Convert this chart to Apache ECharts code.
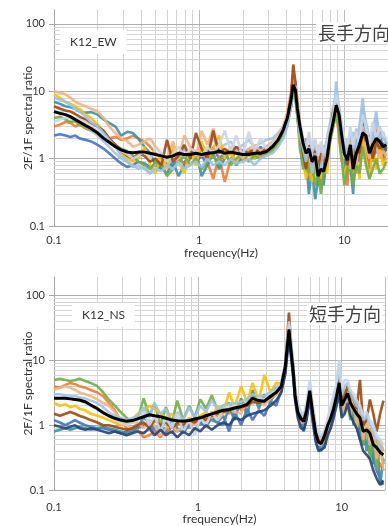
<!DOCTYPE html>
<html>
<head>
<meta charset="utf-8">
<script src="https://cdn.jsdelivr.net/npm/echarts@6/dist/echarts.min.js"></script>
<style>
html, body { margin: 0; padding: 0; background: #fff; }
#main { width: 388px; height: 526px; }
</style>
</head>
<body>
<div id="main"></div>
<script>
// shared frequency axis (Hz)
var freq = [
    0.1, 0.11, 0.12, 0.13, 0.14, 0.15, 0.165, 0.18, 0.2, 0.22, 0.24, 0.265, 0.29, 0.32, 0.35,
    0.38, 0.42, 0.46, 0.5, 0.55, 0.6, 0.66, 0.72, 0.79, 0.87, 0.95, 1.04, 1.14, 1.25, 1.37,
    1.5, 1.65, 1.8, 2.0, 2.2, 2.4, 2.65, 2.9, 3.2, 3.5, 3.8, 4.05, 4.3, 4.45, 4.6,
    4.75, 4.95, 5.2, 5.45, 5.7, 6.0, 6.3, 6.6, 6.9, 7.2, 7.6, 8.0, 8.4, 8.8, 9.2,
    9.6, 10.0, 10.5, 11.0, 11.5, 12.1, 12.7, 13.4, 14.1, 14.9, 15.7, 16.6, 17.5, 18.5, 19.5
];

// ---------- K12_EW ----------
var ewMean = [
    5.0, 4.7, 4.5, 4.2, 3.8, 3.5, 3.1, 2.8, 2.4, 2.0, 1.75, 1.5, 1.35, 1.25, 1.22,
    1.25, 1.25, 1.2, 1.15, 1.1, 1.05, 1.1, 1.2, 1.15, 1.15, 1.2, 1.15, 1.2, 1.22, 1.3,
    1.2, 1.25, 1.2, 1.15, 1.15, 1.2, 1.2, 1.27, 1.5, 1.9, 2.7, 4.0, 7.5, 12.5, 10.5,
    5.5, 3.0, 1.7, 1.2, 1.4, 0.9, 1.1, 0.55, 0.7, 0.65, 1.0, 2.2, 3.6, 6.2, 4.5,
    2.2, 1.2, 0.95, 1.6, 0.7, 1.2, 1.6, 2.4, 2.2, 1.2, 1.6, 2.0, 1.8, 1.5, 1.6
];
var ewRuns = [
    [2.2, 2.3, 2.2, 2.1, 2.2, 2.0, 1.9, 1.8, 1.6, 1.4, 1.2, 1.0, 0.85, 0.75, 0.8,
     0.9, 0.85, 0.75, 0.8, 0.7, 0.9, 0.75, 1.0, 0.85, 1.3, 0.9, 1.1, 0.8, 1.5, 1.0,
     1.2, 0.9, 1.4, 1.0, 1.3, 1.1, 1.5, 1.2, 1.6, 2.0, 2.6, 3.6, 6.5, 10, 8,
     4.5, 2.0, 1.1, 0.6, 0.9, 0.5, 1.4, 0.4, 0.8, 0.5, 1.5, 2.6, 4.0, 7, 3.5,
     1.5, 0.8, 0.6, 2.2, 0.5, 1.6, 0.9, 3.5, 1.5, 0.7, 2.5, 1.2, 2.5, 1.0, 1.5],
    [3.0, 3.2, 3.5, 3.4, 3.0, 3.2, 2.8, 2.6, 2.4, 2.2, 2.0, 2.1, 1.9, 2.0, 2.2,
     2.0, 1.8, 1.5, 1.2, 1.0, 0.9, 1.3, 1.1, 0.8, 1.2, 1.0, 1.4, 0.9, 0.5, 1.1,
     0.45, 1.0, 1.3, 0.9, 1.2, 1.4, 1.1, 1.3, 1.4, 1.8, 2.5, 3.3, 6, 14, 9,
     6, 2.5, 1.2, 2.0, 0.5, 0.9, 0.6, 1.3, 0.35, 1.0, 0.8, 3.0, 5.0, 5.5, 2.0,
     0.9, 2.0, 0.4, 1.4, 1.8, 0.6, 2.2, 1.3, 3.0, 0.8, 1.1, 2.8, 1.3, 0.9, 1.2],
    [7.0, 6.5, 6.0, 5.8, 5.5, 5.0, 4.8, 4.9, 4.5, 3.8, 3.4, 3.0, 2.2, 2.5, 2.4,
     2.0, 1.5, 1.2, 0.8, 0.75, 0.6, 0.9, 0.55, 0.8, 1.0, 1.3, 0.55, 0.8, 1.2, 0.7,
     1.0, 1.3, 0.8, 1.1, 1.4, 1.0, 1.2, 1.5, 1.7, 2.1, 2.8, 4.2, 8, 12, 11,
     5, 1.4, 0.8, 1.0, 0.3, 0.7, 0.25, 0.5, 1.0, 0.4, 1.1, 2.0, 3.5, 6.5, 4.0,
     2.5, 0.6, 1.0, 0.8, 0.3, 2.0, 1.4, 5, 2.0, 1.3, 0.9, 1.5, 3.0, 1.2, 1.8],
    [5.0, 4.8, 4.5, 4.0, 3.6, 3.4, 3.0, 2.6, 2.2, 1.8, 1.5, 1.2, 1.0, 0.9, 0.75,
     0.8, 0.7, 0.6, 0.85, 0.9, 0.75, 1.1, 0.9, 1.4, 1.0, 1.2, 1.6, 1.3, 2.0, 1.4,
     1.6, 1.8, 1.4, 1.6, 1.9, 1.5, 1.7, 1.9, 2.0, 2.4, 3.0, 4.5, 8, 13, 14,
     7, 3.5, 2.0, 1.5, 2.2, 1.2, 1.8, 0.9, 1.5, 1.0, 2.0, 3.5, 6, 9, 6,
     3.0, 1.8, 1.2, 2.5, 1.4, 2.8, 2.0, 6, 3.5, 2.0, 1.5, 4.0, 2.0, 2.5, 1.6],
    [9.0, 8.0, 7.0, 6.5, 6.0, 5.5, 4.5, 4.0, 3.2, 2.5, 2.0, 1.5, 1.2, 1.0, 0.9,
     1.0, 1.5, 0.8, 0.6, 1.2, 0.7, 1.6, 0.9, 0.6, 1.4, 0.8, 1.8, 0.9, 1.4, 2.2,
     1.0, 1.2, 0.9, 1.3, 1.1, 1.0, 1.3, 1.1, 1.4, 1.7, 2.3, 3.5, 7, 11, 9,
     5, 1.6, 0.9, 0.5, 0.8, 0.45, 0.7, 1.2, 0.5, 0.9, 0.6, 2.0, 3.0, 5.0, 3.0,
     1.2, 0.5, 0.9, 1.8, 0.6, 1.0, 0.5, 2.0, 1.0, 0.5, 1.4, 0.7, 1.5, 0.8, 1.0],
    [4.0, 4.2, 3.8, 3.5, 3.6, 3.2, 3.0, 2.7, 2.5, 2.2, 1.9, 1.6, 1.4, 1.3, 1.1,
     0.9, 0.8, 0.7, 0.9, 0.8, 0.55, 0.7, 0.9, 1.1, 0.8, 1.0, 0.7, 0.9, 1.1, 0.8,
     1.3, 0.8, 1.0, 1.2, 0.9, 1.1, 1.0, 1.2, 1.3, 1.6, 2.2, 3.2, 6, 10, 9,
     4, 1.8, 0.7, 1.1, 0.6, 1.0, 0.4, 0.6, 0.3, 0.6, 0.9, 1.8, 3.0, 4.5, 2.5,
     1.0, 0.4, 0.7, 1.1, 0.4, 0.9, 0.6, 1.5, 0.8, 0.5, 0.7, 1.0, 0.6, 0.7, 0.9],
    [10.0, 9.5, 9.0, 8.0, 7.0, 6.5, 6.0, 5.5, 5.0, 4.0, 3.0, 2.4, 2.0, 1.8, 1.5,
     1.6, 1.8, 2.0, 1.5, 1.2, 1.0, 1.8, 1.0, 2.2, 1.5, 1.1, 2.6, 1.6, 2.8, 1.4,
     1.1, 1.5, 1.3, 1.0, 1.4, 1.6, 1.3, 1.5, 1.8, 2.2, 3.0, 5, 10, 18, 12,
     8, 3.0, 1.5, 0.8, 1.2, 0.7, 1.0, 1.6, 0.6, 1.2, 0.8, 2.5, 4.5, 8, 5,
     2.0, 1.0, 1.6, 0.7, 1.2, 0.8, 2.5, 3.0, 1.5, 1.0, 2.0, 1.5, 1.0, 1.3, 1.1],
    [6.0, 5.5, 5.2, 5.0, 4.6, 4.2, 3.8, 3.4, 3.0, 2.6, 2.0, 1.6, 1.3, 1.1, 1.0,
     1.2, 1.1, 0.9, 1.0, 0.8, 1.9, 0.9, 1.1, 1.6, 1.0, 2.4, 1.4, 1.0, 2.6, 1.2,
     1.4, 1.2, 1.5, 1.3, 1.2, 1.4, 1.2, 1.4, 1.5, 1.9, 2.6, 4.0, 9, 25, 14,
     6, 2.5, 1.2, 0.7, 1.6, 0.8, 1.3, 0.7, 1.2, 0.8, 1.2, 2.8, 5, 7, 4,
     1.8, 1.2, 0.8, 1.4, 0.9, 1.4, 1.2, 2.5, 1.8, 2.2, 1.0, 1.8, 1.4, 1.7, 1.3],
    [8.0, 7.5, 7.0, 6.2, 5.5, 5.0, 4.2, 3.5, 3.0, 2.4, 1.9, 1.5, 1.1, 0.9, 0.8,
     0.7, 0.75, 0.6, 0.7, 0.65, 0.8, 0.7, 0.9, 0.7, 0.8, 0.9, 0.75, 1.0, 0.8, 0.9,
     0.8, 1.0, 0.85, 0.9, 1.0, 0.8, 1.0, 1.1, 1.2, 1.5, 2.0, 3.0, 6, 10, 10,
     5, 2.2, 1.4, 0.9, 1.5, 0.6, 1.2, 0.7, 0.6, 1.6, 1.0, 2.2, 3.8, 14, 5,
     2.0, 1.0, 2.0, 1.0, 2.5, 1.2, 3.0, 8.0, 2.5, 1.5, 2.5, 5.0, 2.0, 2.2, 1.5],
    [3.5, 3.8, 4.0, 4.2, 4.0, 3.8, 3.5, 3.0, 2.6, 2.2, 1.8, 1.5, 1.3, 1.15, 1.0,
     1.1, 1.3, 1.0, 1.4, 1.2, 0.9, 1.2, 1.5, 1.1, 1.4, 1.3, 1.1, 1.5, 1.2, 1.6,
     2.6, 1.3, 2.2, 1.1, 2.5, 1.3, 2.0, 1.4, 1.7, 2.1, 2.8, 4.0, 7, 11, 12,
     6, 3.0, 1.8, 1.3, 2.5, 1.4, 2.0, 1.1, 1.8, 1.2, 1.6, 3.0, 4.5, 9, 5,
     3.5, 2.0, 1.5, 3.0, 1.6, 2.5, 1.6, 4.5, 3.0, 1.6, 3.5, 2.0, 3.0, 2.2, 2.0]
];

// ---------- K12_NS ----------
var nsMean = [
    2.6, 2.6, 2.6, 2.55, 2.5, 2.45, 2.3, 2.05, 1.8, 1.55, 1.4, 1.28, 1.2, 1.15, 1.18,
    1.25, 1.35, 1.45, 1.4, 1.35, 1.28, 1.2, 1.17, 1.15, 1.18, 1.25, 1.3, 1.4, 1.5, 1.6,
    1.7, 1.75, 1.85, 1.95, 2.1, 2.6, 2.4, 2.35, 2.8, 3.2, 4.0, 8.0, 30, 14, 7,
    2.8, 1.6, 1.25, 1.15, 1.7, 3.4, 1.5, 0.75, 0.55, 0.52, 0.7, 1.0, 1.3, 1.8, 2.8,
    4.5, 2.0, 2.5, 3.1, 2.2, 1.8, 1.5, 1.3, 0.8, 0.85, 0.75, 0.5, 0.45, 0.38, 0.35
];
var nsRuns = [
    [1.2, 1.1, 1.0, 1.1, 1.2, 1.1, 1.0, 0.95, 0.9, 0.9, 0.85, 0.8, 0.75, 0.8, 0.85,
     0.9, 1.0, 1.1, 0.8, 0.9, 0.75, 0.95, 0.8, 0.9, 1.0, 0.85, 1.1, 0.95, 1.3, 1.1,
     1.4, 0.8, 1.6, 1.0, 1.8, 1.2, 1.7, 1.4, 2.3, 2.0, 3.4, 6.5, 25, 12, 6,
     2.5, 1.4, 1.0, 0.9, 1.3, 2.8, 1.2, 0.6, 0.45, 0.4, 0.5, 0.8, 1.0, 1.5, 2.2,
     3.5, 1.5, 1.8, 2.5, 1.5, 1.2, 1.0, 0.8, 0.5, 0.55, 0.4, 0.3, 0.2, 0.15, 0.12],
    [4.0, 3.8, 4.2, 4.5, 4.3, 4.0, 3.8, 3.5, 3.2, 2.8, 2.2, 1.7, 1.2, 0.9, 0.8,
     0.85, 0.65, 0.7, 0.8, 0.65, 0.9, 0.75, 1.0, 1.2, 0.9, 1.1, 1.4, 1.2, 1.6, 1.3,
     1.8, 1.5, 2.2, 1.7, 2.0, 2.8, 2.2, 2.6, 2.5, 3.0, 3.8, 7, 35, 15, 7,
     3.0, 1.7, 1.2, 1.0, 1.8, 3.5, 1.4, 0.7, 0.5, 0.6, 0.55, 1.0, 1.5, 2.5, 3.5,
     5, 2.5, 3.0, 4.0, 2.0, 2.5, 1.6, 1.0, 0.7, 0.9, 0.6, 0.4, 0.3, 0.25, 0.2],
    [0.8, 0.85, 0.9, 0.85, 0.9, 0.95, 0.9, 0.85, 0.9, 0.95, 0.9, 0.85, 0.8, 0.75, 0.8,
     0.95, 1.3, 1.1, 0.9, 1.0, 0.85, 1.2, 0.9, 0.75, 1.0, 1.3, 1.0, 1.5, 1.2, 1.1,
     1.0, 1.9, 1.2, 2.6, 1.4, 3.5, 1.8, 3.0, 2.2, 3.8, 3.6, 7.5, 28, 14, 6.5,
     2.6, 1.5, 1.1, 0.8, 1.4, 3.0, 1.3, 0.65, 0.5, 0.45, 0.6, 0.75, 1.2, 1.8, 2.5,
     6, 1.4, 3.0, 2.0, 3.5, 1.0, 1.8, 0.6, 1.2, 0.4, 0.9, 0.25, 0.6, 0.12, 0.3],
    [5.0, 5.2, 5.0, 4.8, 5.0, 5.2, 4.8, 4.5, 4.0, 3.2, 2.5, 2.0, 1.6, 1.3, 1.1,
     1.2, 2.6, 1.4, 2.2, 1.0, 1.9, 1.1, 2.4, 1.2, 2.0, 1.3, 2.5, 1.8, 2.9, 1.7,
     2.0, 2.2, 1.8, 2.4, 2.0, 3.0, 2.5, 2.2, 3.0, 3.3, 4.2, 8, 30, 16, 8,
     3.0, 1.7, 1.3, 1.2, 1.6, 3.2, 1.6, 0.8, 0.6, 0.55, 0.6, 1.0, 1.4, 1.6, 2.5,
     4, 1.5, 3.5, 2.0, 1.2, 2.4, 0.9, 1.6, 0.5, 1.0, 0.3, 0.7, 0.2, 0.5, 0.25],
    [2.2, 2.0, 2.1, 1.9, 2.0, 1.8, 1.7, 1.5, 1.4, 1.3, 1.2, 1.1, 1.0, 1.05, 1.2,
     1.5, 1.7, 2.0, 1.8, 1.5, 1.3, 1.5, 1.2, 1.0, 1.3, 1.1, 1.4, 1.6, 1.3, 2.0,
     1.6, 3.2, 1.9, 4.0, 2.2, 4.5, 2.4, 6.0, 3.2, 4.5, 4.4, 8.5, 32, 15, 7.5,
     3.2, 1.9, 1.3, 1.3, 1.8, 3.8, 1.7, 0.9, 0.6, 0.6, 0.7, 1.1, 1.6, 2.0, 3.0,
     5, 2.2, 2.5, 3.2, 2.4, 2.0, 1.5, 1.2, 0.9, 1.0, 0.8, 0.6, 0.5, 0.6, 0.4],
    [3.5, 3.8, 4.0, 3.8, 3.5, 3.2, 3.0, 2.8, 2.5, 2.2, 2.0, 1.6, 1.2, 1.0, 0.9,
     1.1, 0.9, 1.2, 1.0, 0.7, 0.9, 1.0, 0.8, 1.0, 1.2, 1.0, 1.3, 1.1, 1.5, 1.2,
     1.5, 1.8, 1.6, 1.5, 2.4, 2.1, 2.5, 2.0, 2.6, 3.0, 3.8, 7.5, 30, 14, 7,
     2.8, 1.6, 1.1, 1.1, 1.5, 3.0, 1.4, 0.7, 0.5, 0.5, 0.6, 0.9, 1.3, 1.7, 2.6,
     3.0, 2.5, 1.5, 3.5, 1.4, 2.6, 0.9, 1.8, 0.6, 1.2, 0.5, 0.8, 0.3, 0.5, 0.2],
    [1.5, 1.4, 1.5, 1.6, 1.5, 1.4, 1.3, 1.2, 1.1, 1.0, 1.0, 0.95, 0.9, 0.85, 0.9,
     1.0, 1.1, 0.9, 1.2, 1.0, 1.1, 0.9, 1.1, 1.0, 1.2, 1.1, 1.3, 1.2, 1.4, 1.5,
     1.6, 1.7, 1.8, 1.9, 2.0, 2.3, 2.2, 2.4, 2.7, 3.2, 4.0, 8, 55, 18, 8,
     3.0, 1.8, 1.3, 1.2, 1.7, 3.5, 1.6, 0.8, 0.55, 0.55, 0.6, 1.0, 1.4, 2.0, 3.0,
     5, 2.3, 2.8, 4, 3.0, 2.5, 1.8, 5, 1.0, 1.2, 2.5, 1.5, 0.8, 1.5, 2.4],
    [3.0, 3.0, 2.9, 2.8, 2.8, 2.7, 2.6, 2.4, 2.2, 1.9, 1.6, 1.4, 1.3, 1.2, 1.3,
     1.4, 1.9, 1.3, 2.2, 1.5, 1.8, 1.1, 1.6, 1.2, 1.9, 1.3, 2.0, 1.6, 2.4, 1.8,
     2.0, 2.1, 2.2, 2.3, 2.6, 3.0, 2.8, 2.8, 3.3, 3.8, 4.6, 9, 35, 18, 8,
     3.2, 2.0, 1.5, 1.4, 2.0, 4.5, 1.8, 0.9, 0.7, 0.65, 0.8, 1.2, 1.8, 2.5, 4.0,
     9, 3.0, 4.0, 4.5, 3.0, 2.5, 2.0, 1.8, 1.2, 1.4, 1.0, 0.8, 0.6, 0.5, 0.4],
    [2.5, 2.6, 2.7, 2.6, 2.5, 2.4, 2.2, 2.0, 1.8, 1.6, 1.4, 1.2, 1.1, 1.0, 1.1,
     1.2, 1.6, 1.0, 1.4, 0.8, 1.3, 0.9, 1.5, 0.8, 1.2, 0.7, 1.3, 1.0, 1.6, 1.2,
     1.8, 1.9, 2.0, 2.0, 2.2, 2.5, 2.6, 2.5, 3.0, 3.4, 4.4, 8.5, 40, 20, 9,
     3.5, 2.2, 1.6, 1.5, 2.2, 5, 2.0, 1.0, 0.8, 0.7, 0.8, 1.3, 2.0, 3.0, 4.5,
     10, 3.5, 5, 5, 3.5, 3.0, 2.4, 2.0, 1.4, 1.6, 1.2, 1.0, 0.7, 0.6, 0.5],
    [1.0, 0.95, 0.9, 0.95, 1.0, 0.9, 0.85, 0.9, 0.85, 0.8, 0.75, 0.8, 0.75, 0.7, 0.75,
     0.8, 0.75, 0.9, 0.7, 0.85, 0.7, 0.8, 0.65, 0.8, 0.7, 0.9, 0.8, 1.0, 0.85, 1.0,
     1.1, 1.0, 1.3, 1.2, 1.4, 1.5, 1.6, 1.7, 2.0, 2.4, 3.2, 6, 22, 11, 5.5,
     2.4, 1.3, 0.9, 0.85, 1.2, 2.6, 1.1, 0.55, 0.4, 0.42, 0.45, 0.7, 0.9, 1.3, 2.0,
     3.0, 1.3, 1.5, 2.2, 1.4, 1.1, 0.9, 0.6, 0.4, 0.35, 0.3, 0.2, 0.15, 0.12, 0.14]
];

var ewColors = ['#4472c4', '#ed7d31', '#3a8fa8', '#adc2da', '#ffc000',
                '#70ad47', '#f4b183', '#9e480e', '#9dc3e6', '#c9d6e8'];
var nsColors = ['#4472c4', '#ed7d31', '#3a8fa8', '#70ad47', '#ffc000',
                '#f4b183', '#9e480e', '#9dc3e6', '#c9d6e8', '#264478'];

// grid line positions (log axes)
var minorX = [0.2, 0.3, 0.4, 0.5, 0.6, 0.7, 0.8, 0.9, 2, 3, 4, 5, 6, 7, 8, 9];
var minorY = [0.2, 0.3, 0.4, 0.5, 0.6, 0.7, 0.8, 0.9, 2, 3, 4, 5, 6, 7, 8, 9,
              20, 30, 40, 50, 60, 70, 80, 90];
var majorY = [1, 10, 100];

var latin = 'Lato, "Liberation Sans", sans-serif';
var cjk = '"Noto Sans CJK JP", sans-serif';

var chart = echarts.init(document.getElementById('main'));

function pairs(values) {
    return freq.map(function (f, i) { return [f, values[i]]; });
}

function makeAxes(idx, yMax, labelMargin, nameGap) {
    var x = {
        type: 'log', logBase: 10, gridIndex: idx,
        min: 0.1, max: 20,
        name: 'frequency(Hz)', nameLocation: 'middle', nameGap: nameGap,
        nameMoveOverlap: false,
        nameTextStyle: { color: '#333', fontSize: 12, fontFamily: latin },
        axisLine: { show: true, lineStyle: { color: '#a6a6a6' } },
        axisTick: { show: false },
        axisLabel: { color: '#333', fontSize: 11, fontFamily: latin,
                     margin: labelMargin, showMaxLabel: false },
        splitLine: { show: true, lineStyle: { color: '#bdbdbd' } }
    };
    var y = {
        type: 'log', logBase: 10, gridIndex: idx,
        min: 0.1, max: yMax,
        name: '2F/1F spectral ratio', nameLocation: 'middle', nameGap: 20,
        nameMoveOverlap: false,
        nameTextStyle: { color: '#333', fontSize: 12, fontFamily: latin },
        axisLine: { show: true, lineStyle: { color: '#a6a6a6' } },
        axisTick: { show: true, length: 5, lineStyle: { color: '#a6a6a6' } },
        axisLabel: { color: '#333', fontSize: 11, fontFamily: latin,
                     margin: 9, showMaxLabel: false },
        splitLine: { show: false }
    };
    return { x: x, y: y };
}

function makeSeries(idx, mean, runs, colors) {
    var list = [];
    // background grid drawn as mark lines
    var lines = [];
    minorX.forEach(function (v) { lines.push({ xAxis: v, lineStyle: { color: '#d2d2d2' } }); });
    minorY.forEach(function (v) { lines.push({ yAxis: v, lineStyle: { color: '#d6d6d6' } }); });
    majorY.forEach(function (v) { lines.push({ yAxis: v, lineStyle: { color: '#aeaeae' } }); });
    list.push({
        type: 'line', xAxisIndex: idx, yAxisIndex: idx, data: [],
        silent: true,
        markLine: {
            silent: true, symbol: 'none', animation: false,
            label: { show: false },
            lineStyle: { type: 'solid', width: 1 },
            data: lines
        }
    });
    runs.forEach(function (r, k) {
        list.push({
            type: 'line', xAxisIndex: idx, yAxisIndex: idx, z: 10,
            data: pairs(r), showSymbol: false, symbol: 'none',
            lineStyle: { width: 2.6, color: colors[k], opacity: 0.9 },
            itemStyle: { color: colors[k] }
        });
    });
    list.push({
        type: 'line', xAxisIndex: idx, yAxisIndex: idx, z: 12,
        data: pairs(mean), showSymbol: false, symbol: 'none',
        lineStyle: { width: 3, color: '#000' },
        itemStyle: { color: '#000' }
    });
    return list;
}

var axesTop = makeAxes(0, 161, 9, 21);
var axesBot = makeAxes(1, 194, 12, 23);

var option = {
    animation: false,
    backgroundColor: '#fff',
    title: [
        { text: 'K12_EW', left: 60, top: 30, backgroundColor: '#fff', padding: [6, 10],
          textStyle: { fontSize: 12, fontWeight: 'normal', color: '#333', fontFamily: latin } },
        { text: '長手方向', left: 316, top: 22, backgroundColor: '#fff', padding: [1, 2],
          textStyle: { fontSize: 18, lineHeight: 20, fontWeight: 'normal', color: '#404040', fontFamily: cjk } },
        { text: 'K12_NS', left: 72, top: 303, backgroundColor: '#fff', padding: [6, 10],
          textStyle: { fontSize: 12, fontWeight: 'normal', color: '#333', fontFamily: latin } },
        { text: '短手方向', left: 307, top: 303, backgroundColor: '#fff', padding: [1, 2],
          textStyle: { fontSize: 18, lineHeight: 20, fontWeight: 'normal', color: '#404040', fontFamily: cjk } }
    ],
    grid: [
        { left: 54, right: -10, top: 10, bottom: 300 },
        { left: 54, right: 3, top: 277, bottom: 32 }
    ],
    xAxis: [axesTop.x, axesBot.x],
    yAxis: [axesTop.y, axesBot.y],
    series: makeSeries(0, ewMean, ewRuns, ewColors).concat(makeSeries(1, nsMean, nsRuns, nsColors))
};

chart.setOption(option);
</script>
</body>
</html>
